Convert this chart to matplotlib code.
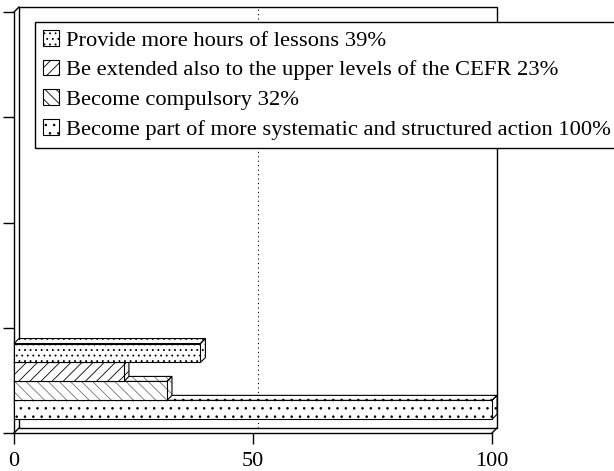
import matplotlib
matplotlib.use("Agg")
import matplotlib.pyplot as plt
from matplotlib.patches import Polygon, Rectangle

# bars listed top to bottom, as in the legend
labels = ["Provide more hours of lessons 39%",
          "Be extended also to the upper levels of the CEFR 23%",
          "Become compulsory 32%",
          "Become part of more systematic and structured action 100%"]
values = [39, 23, 32, 100]
hatches = ["...", "///", "\\\\\\", ".."]
hatch_colors = ["black", "black", "0.45", "black"]
ypos = [0.76, 0.58, 0.40, 0.22]
bar_h = 0.18
xticks = [0, 50, 100]
yticks = [0, 1, 2, 3, 4]

plt.rcParams['font.family'] = ['Liberation Serif', 'DejaVu Serif']
plt.rcParams['hatch.linewidth'] = 0.6

fig = plt.figure(figsize=(6.14, 4.71), dpi=100)
ax = fig.add_axes([14/614, 38/471, 478/614, 421/471])
ax.set_xlim(0, 100)
ax.set_ylim(0, 4)
for s in ax.spines.values():
    s.set_visible(False)
ax.set_yticks(yticks)
ax.set_yticklabels([])
ax.set_xticks(xticks)
ax.tick_params(direction='out', length=8, width=1, labelsize=16, pad=6)

# depth of the fake 3d, 5 px, in data units
d = 5
dx = d * 100 / ax.bbox.width
dy = d * 4 / ax.bbox.height

# back wall + floor + gridline
ax.add_patch(Rectangle((dx, dy), 100, 4, facecolor='white', edgecolor='black',
                       lw=1, clip_on=False, zorder=0))
ax.plot([50 + dx, 50 + dx], [dy, 4 + dy], color='black', lw=0.8, ls=(0, (1, 3)),
        clip_on=False, zorder=0.5)
line_kw = dict(color='black', lw=1, clip_on=False, zorder=1)
ax.plot([0, 0], [0, 4], **line_kw)
ax.plot([0, dx], [4, 4 + dy], **line_kw)
ax.plot([0, 100], [0, 0], **line_kw)
ax.plot([0, dx], [0, dy], **line_kw)
ax.plot([100, 100 + dx], [0, dy], **line_kw)

handles = [None] * len(values)
# draw from bottom bar upward so upper bars cover lower top faces
for i in reversed(range(len(values))):
    v, y, h, hc = values[i], ypos[i], hatches[i], hatch_colors[i]
    z = 2 + (len(values) - i)
    yb, yt = y - bar_h / 2, y + bar_h / 2
    faces = [[(0, yt), (v, yt), (v + dx, yt + dy), (dx, yt + dy)],
             [(v, yb), (v + dx, yb + dy), (v + dx, yt + dy), (v, yt)]]
    for f in faces:
        # hatch layer, then black outline on top
        ax.add_patch(Polygon(f, facecolor='white', edgecolor=hc, lw=0, hatch=h,
                             zorder=z, clip_on=False))
        ax.add_patch(Polygon(f, fill=False, edgecolor='black', lw=0.8,
                             zorder=z + 0.05, clip_on=False))
    bars = ax.barh(y, v, height=bar_h, color='white', edgecolor=hc,
                   lw=0, hatch=h, zorder=z + 0.1)
    ax.barh(y, v, height=bar_h, fill=False, edgecolor='black', lw=0.8,
            zorder=z + 0.15, clip_on=False)
    handles[i] = bars

leg = fig.legend(handles, labels, loc='upper left',
                 bbox_to_anchor=(35/614, 1 - 22/471), frameon=True, fancybox=False,
                 edgecolor='black', framealpha=1, fontsize=16.2,
                 handlelength=0.7, handleheight=0.7, handletextpad=0.35,
                 labelspacing=0.4, borderpad=0.35, borderaxespad=0)
leg.get_frame().set_linewidth(1)
for p in leg.get_patches():
    p.set_edgecolor('black')
    p.set_linewidth(0.8)

fig.savefig("out.png", dpi=100)
